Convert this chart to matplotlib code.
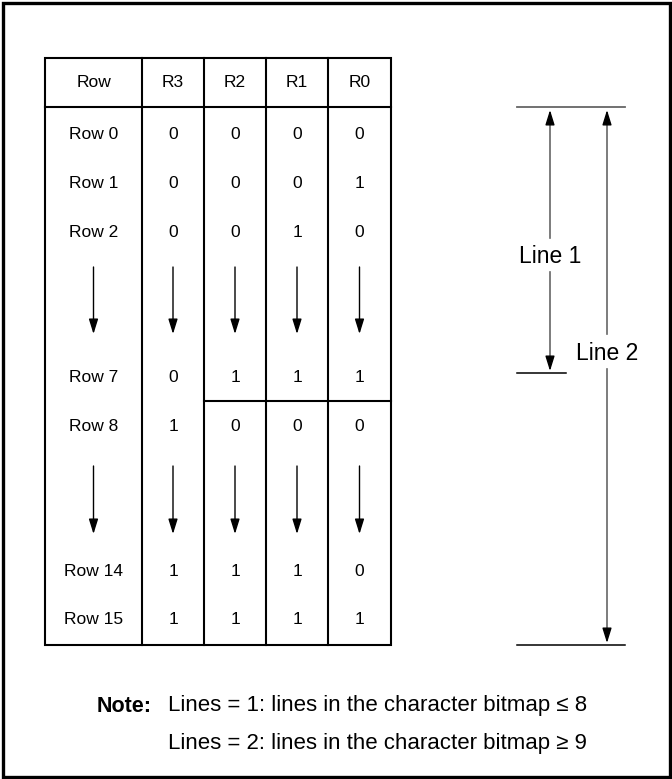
import matplotlib
matplotlib.use("Agg")
from matplotlib import pyplot as plt
from matplotlib.patches import Rectangle

plt.rcParams['font.family'] = ['Liberation Sans', 'DejaVu Sans']

# table content
headers = ["Row", "R3", "R2", "R1", "R0"]
row_labels = ["Row 0", "Row 1", "Row 2", "Row 7", "Row 8", "Row 14", "Row 15"]
bits = [
    [0, 0, 0, 0],
    [0, 0, 0, 1],
    [0, 0, 1, 0],
    [0, 1, 1, 1],
    [1, 0, 0, 0],
    [1, 1, 1, 0],
    [1, 1, 1, 1],
]
row_y = [134, 183, 232, 377, 426, 571, 620]
gap_arrows = [(267, 334), (466, 534)]   # the "continues" arrows
notes = ["Lines = 1: lines in the character bitmap \u2264 8",
         "Lines = 2: lines in the character bitmap \u2265 9"]

# geometry (pixels)
col_x = [45, 142, 204, 266, 328, 391]
top, head_bot, bot = 58, 107, 645
split_y = 401

fig = plt.figure(figsize=(6.72, 7.79), dpi=100)
ax = fig.add_axes([0, 0, 1, 1])
ax.set_xlim(0, 672)
ax.set_ylim(779, 0)
ax.axis('off')

# outer frame
ax.add_patch(Rectangle((2.5, 2.5), 667, 774, fill=False, lw=2.4, ec='black'))

# table lines
lw = 1.5
ax.add_patch(Rectangle((col_x[0], top), col_x[-1] - col_x[0], bot - top,
                       fill=False, lw=lw, ec='black'))
ax.plot([col_x[0], col_x[-1]], [head_bot, head_bot], color='black', lw=lw)
for x in col_x[1:-1]:
    ax.plot([x, x], [top, bot], color='black', lw=lw)
ax.plot([col_x[2], col_x[-1]], [split_y, split_y], color='black', lw=lw)

centers = [(col_x[i] + col_x[i + 1]) / 2 for i in range(5)]
fs = 12.5

for c, h in zip(centers, headers):
    ax.text(c, (top + head_bot) / 2, h, ha='center', va='center', fontsize=fs)

for y, lab, vals in zip(row_y, row_labels, bits):
    ax.text(centers[0], y, lab, ha='center', va='center', fontsize=fs)
    for c, v in zip(centers[1:], vals):
        ax.text(c, y, str(v), ha='center', va='center', fontsize=fs)

head = '-|>,head_length=0.9,head_width=0.28'
for y0, y1 in gap_arrows:
    for c in centers:
        ax.annotate('', xy=(c, y1), xytext=(c, y0),
                    arrowprops=dict(arrowstyle=head, color='black', lw=1.0,
                                    shrinkA=0, shrinkB=0))

# Line 1 / Line 2 brackets
gray = '#666666'
ax.plot([517, 625], [head_bot, head_bot], color=gray, lw=1.3)
ax.plot([517, 566], [373, 373], color='black', lw=1.1)
ax.plot([517, 625], [bot, bot], color='black', lw=1.1)


def dim_arrow(x, y_top, y_bot, gap0, gap1, label, label_y):
    # vertical dimension arrow interrupted by its label
    ax.plot([x, x], [y_top + 10, gap0], color=gray, lw=1.2)
    ax.plot([x, x], [gap1, y_bot - 10], color=gray, lw=1.2)
    ax.annotate('', xy=(x, y_top), xytext=(x, y_top + 12),
                arrowprops=dict(arrowstyle=head, color='black', lw=1.0,
                                shrinkA=0, shrinkB=0))
    ax.annotate('', xy=(x, y_bot), xytext=(x, y_bot - 12),
                arrowprops=dict(arrowstyle=head, color='black', lw=1.0,
                                shrinkA=0, shrinkB=0))
    ax.text(x, label_y, label, ha='center', va='center', fontsize=16.5)


dim_arrow(550, 110, 371, 238, 272, "Line 1", 256)
dim_arrow(607, 110, 643, 334, 369, "Line 2", 353)

# note
ax.text(97, 706, "Note:", fontsize=15.5, fontweight='bold', va='center')
ax.text(168, 706, notes[0], fontsize=16, va='center')
ax.text(168, 743, notes[1], fontsize=16, va='center')

fig.savefig('out.png', dpi=100)
